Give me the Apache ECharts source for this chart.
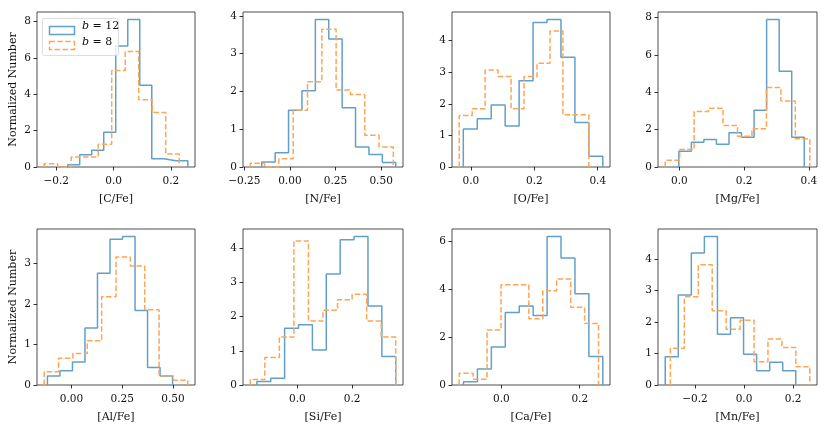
<!DOCTYPE html>
<html>
<head>
<meta charset="utf-8">
<script src="https://cdn.jsdelivr.net/npm/echarts@6/dist/echarts.min.js"></script>
<style>
  html, body { margin: 0; padding: 0; background: #fff; }
  #chart { width: 830px; height: 428px; }
</style>
</head>
<body>
<div id="chart"></div>
<script>
// histogram heights, 10 bins each (b = 12 blue, b = 8 orange)
var cfeB12 = [0.13, 0.68, 0.92, 1.92, 6.67, 8.13, 4.5, 0.46, 0.35, 0.35];
var cfeB8  = [0.18, 0, 0.55, 0.55, 1.25, 5.31, 6.36, 3.7, 3.0, 0.71];
var nfeB12 = [0.13, 0.38, 1.5, 2.02, 3.91, 3.39, 1.57, 0.53, 0.33, 0.12];
var nfeB8  = [0.1, 0, 0.22, 1.5, 2.26, 3.65, 2.04, 1.92, 0.84, 0.53];
var ofeB12 = [1.2, 1.53, 1.96, 1.3, 2.73, 4.57, 4.67, 3.47, 1.41, 0.34];
var ofeB8  = [1.63, 1.84, 3.07, 2.86, 1.84, 2.86, 3.28, 4.3, 1.65, 1.65];
var mgfeB12 = [0.85, 1.33, 1.47, 1.22, 1.83, 1.6, 3.04, 7.91, 5.13, 1.6];
var mgfeB8  = [0.36, 0.94, 2.97, 3.15, 2.23, 1.65, 2.05, 4.26, 3.54, 1.51];
var alfeB12 = [0.22, 0.35, 0.57, 1.41, 2.76, 3.6, 3.67, 1.84, 0.43, 0.22];
var alfeB8  = [0.33, 0.66, 0.78, 1.09, 2.18, 3.16, 2.94, 1.86, 0.22, 0.12];
var sifeB12 = [0.1, 0.2, 1.66, 1.76, 1.02, 3.24, 4.24, 4.34, 2.31, 0.83];
var sifeB8  = [0.16, 0.8, 1.4, 4.21, 1.87, 2.18, 2.49, 2.65, 1.87, 1.4];
var cafeB12 = [0.14, 0.67, 1.59, 3.03, 3.3, 2.9, 6.2, 5.3, 3.81, 1.19];
var cafeB8  = [0.49, 0.24, 2.3, 4.18, 4.18, 2.76, 3.93, 4.42, 3.24, 2.57];
var mnfeB12 = [0.9, 2.86, 4.19, 4.72, 1.61, 2.14, 0.98, 0.45, 0.72, 0.45];
var mnfeB8  = [1.17, 2.8, 3.82, 2.36, 1.77, 2.06, 0.74, 1.46, 1.19, 0.58];

// bin ranges [lo, hi] for each series
var cfeSpan12 = [-0.16, 0.259],  cfeSpan8 = [-0.242, 0.229];
var nfeSpan12 = [-0.154, 0.58],  nfeSpan8 = [-0.217, 0.567];
var ofeSpan12 = [-0.024, 0.416], ofeSpan8 = [-0.037, 0.372];
var mgfeSpan12 = [-0.002, 0.386], mgfeSpan8 = [-0.044, 0.403];
var alfeSpan12 = [-0.118, 0.498], alfeSpan8 = [-0.134, 0.573];
var sifeSpan12 = [-0.148, 0.359], sifeSpan8 = [-0.172, 0.359];
var cafeSpan12 = [-0.097, 0.259], cafeSpan8 = [-0.108, 0.248];
var mnfeSpan12 = [-0.321, 0.211], mnfeSpan8 = [-0.3, 0.268];

// tick values
var cfeXTicks = [-0.2, 0, 0.2],          cfeYTicks = [0, 2, 4, 6, 8];
var nfeXTicks = [-0.25, 0, 0.25, 0.5],   nfeYTicks = [0, 1, 2, 3, 4];
var ofeXTicks = [0, 0.2, 0.4],           ofeYTicks = [0, 1, 2, 3, 4];
var mgfeXTicks = [0, 0.2, 0.4],          mgfeYTicks = [0, 2, 4, 6, 8];
var alfeXTicks = [0, 0.25, 0.5],         alfeYTicks = [0, 1, 2, 3];
var sifeXTicks = [0, 0.2],               sifeYTicks = [0, 1, 2, 3, 4];
var cafeXTicks = [0, 0.2],               cafeYTicks = [0, 2, 4, 6];
var mnfeXTicks = [-0.2, 0, 0.2],         mnfeYTicks = [0, 1, 2, 3, 4];

var labels = ['[C/Fe]', '[N/Fe]', '[O/Fe]', '[Mg/Fe]', '[Al/Fe]', '[Si/Fe]', '[Ca/Fe]', '[Mn/Fe]'];

var panels = [
  [cfeB12, cfeSpan12, cfeB8, cfeSpan8, cfeXTicks, cfeYTicks],
  [nfeB12, nfeSpan12, nfeB8, nfeSpan8, nfeXTicks, nfeYTicks],
  [ofeB12, ofeSpan12, ofeB8, ofeSpan8, ofeXTicks, ofeYTicks],
  [mgfeB12, mgfeSpan12, mgfeB8, mgfeSpan8, mgfeXTicks, mgfeYTicks],
  [alfeB12, alfeSpan12, alfeB8, alfeSpan8, alfeXTicks, alfeYTicks],
  [sifeB12, sifeSpan12, sifeB8, sifeSpan8, sifeXTicks, sifeYTicks],
  [cafeB12, cafeSpan12, cafeB8, cafeSpan8, cafeXTicks, cafeYTicks],
  [mnfeB12, mnfeSpan12, mnfeB8, mnfeSpan8, mnfeXTicks, mnfeYTicks]
];

var BLUE = '#62a0ca', ORANGE = '#ffa556';
var FONT = 'DejaVu Serif';
var TXT = '#111';

// grid boxes (px)
var colLeft = [37, 243, 452, 658];
var colWidth = [158, 160, 158, 159];
var rowTop = [12, 229];
var rowHeight = [155, 156];

// outline of a step histogram, like matplotlib histtype='step'
function stepPoints(h, span) {
  var w = (span[1] - span[0]) / h.length;
  var pts = [[span[0], 0]];
  for (var i = 0; i < h.length; i++) {
    pts.push([span[0] + i * w, h[i]]);
    pts.push([span[0] + (i + 1) * w, h[i]]);
  }
  pts.push([span[1], 0]);
  return pts;
}

function fmtTick(decimals) {
  return function (v) {
    return v.toFixed(decimals).replace('-', '\u2212');
  };
}

var grids = [], xAxes = [], yAxes = [], series = [];

panels.forEach(function (p, i) {
  var row = Math.floor(i / 4), col = i % 4;
  grids.push({
    left: colLeft[col], top: rowTop[row], width: colWidth[col], height: rowHeight[row],
    show: true, borderColor: '#222', borderWidth: 0.8, backgroundColor: 'transparent'
  });

  // matplotlib-like 5% margins on x, 5% headroom on y
  var lo = Math.min(p[1][0], p[3][0]), hi = Math.max(p[1][1], p[3][1]);
  var pad = (hi - lo) * 0.05;
  var top = Math.max(Math.max.apply(null, p[0]), Math.max.apply(null, p[2])) * 1.05;
  var dec = p[4].some(function (t) { return Math.abs(t * 10 - Math.round(t * 10)) > 1e-9; }) ? 2 : 1;

  xAxes.push({
    type: 'value', gridIndex: i, min: lo - pad, max: hi + pad, position: 'bottom',
    axisLine: { show: false, onZero: false }, splitLine: { show: false },
    axisTick: { show: true, customValues: p[4], length: 3.5, lineStyle: { color: '#000', width: 0.8 } },
    axisLabel: { customValues: p[4], formatter: fmtTick(dec), margin: 9,
                 fontFamily: FONT, fontSize: 10.5, color: TXT },
    name: labels[i], nameLocation: 'middle', nameGap: 27,
    nameTextStyle: { fontFamily: FONT, fontSize: 11, color: TXT }
  });
  yAxes.push({
    type: 'value', gridIndex: i, min: 0, max: top, position: 'left',
    axisLine: { show: false, onZero: false }, splitLine: { show: false },
    axisTick: { show: true, customValues: p[5], length: 3.5, lineStyle: { color: '#000', width: 0.8 } },
    axisLabel: { customValues: p[5], margin: 6, fontFamily: FONT, fontSize: 10.5, color: TXT },
    name: col === 0 ? 'Normalized Number' : '', nameLocation: 'middle', nameGap: 18,
    nameTextStyle: { fontFamily: FONT, fontSize: 11, color: TXT }
  });

  series.push({
    name: 'b = 12', type: 'line', xAxisIndex: i, yAxisIndex: i,
    data: stepPoints(p[0], p[1]), symbol: 'none', clip: false, silent: true,
    lineStyle: { color: BLUE, width: 1.5 }
  });
  series.push({
    name: 'b = 8', type: 'line', xAxisIndex: i, yAxisIndex: i,
    data: stepPoints(p[2], p[3]), symbol: 'none', clip: false, silent: true,
    lineStyle: { color: ORANGE, width: 1.5, type: [5.5, 2.4] }
  });
});

var chart = echarts.init(document.getElementById('chart'), null, { renderer: 'canvas' });
chart.setOption({
  animation: false,
  backgroundColor: '#fff',
  grid: grids,
  xAxis: xAxes,
  yAxis: yAxes,
  series: series,
  // legend box in the first panel
  graphic: [
    { type: 'rect', left: 42, top: 18, z: 10,
      shape: { width: 76, height: 37, r: 2 },
      style: { fill: 'rgba(255,255,255,0.8)', stroke: '#d0d0d0', lineWidth: 0.8 } },
    { type: 'rect', left: 47, top: 24, z: 11,
      shape: { width: 25, height: 8 },
      style: { fill: 'none', stroke: BLUE, lineWidth: 1.5 } },
    { type: 'rect', left: 47, top: 39, z: 11,
      shape: { width: 25, height: 8 },
      style: { fill: 'none', stroke: ORANGE, lineWidth: 1.5, lineDash: [5.5, 2.4] } },
    { type: 'text', left: 82, top: 21, z: 11,
      style: { text: '{i|b} = 12', fontFamily: FONT, fontSize: 11, fill: TXT,
               rich: { i: { fontStyle: 'italic', fontFamily: FONT, fontSize: 11 } } } },
    { type: 'text', left: 82, top: 37, z: 11,
      style: { text: '{i|b} = 8', fontFamily: FONT, fontSize: 11, fill: TXT,
               rich: { i: { fontStyle: 'italic', fontFamily: FONT, fontSize: 11 } } } }
  ]
});
</script>
</body>
</html>
